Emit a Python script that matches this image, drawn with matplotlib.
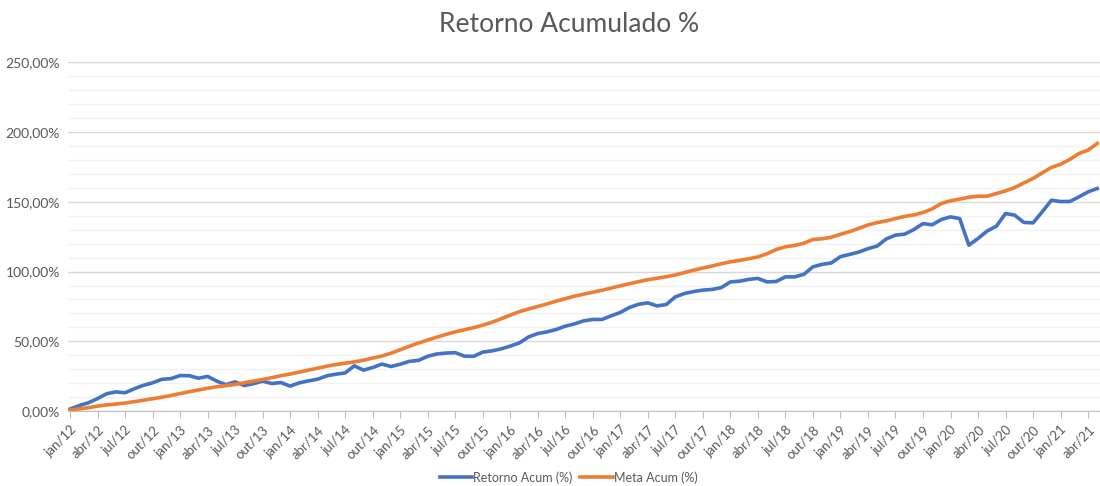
import numpy as np
import matplotlib
matplotlib.use("Agg")
import matplotlib.pyplot as plt
from matplotlib.ticker import MultipleLocator, FixedLocator, FuncFormatter

plt.rcParams['font.family'] = ['Lato', 'DejaVu Sans']

# meses (pt-BR) e anos do eixo x
meses = ['jan', 'fev', 'mar', 'abr', 'mai', 'jun', 'jul', 'ago', 'set', 'out', 'nov', 'dez']
anos = ['12', '13', '14', '15', '16', '17', '18', '19', '20', '21']

# retorno acumulado da carteira (%), jan/12 .. mai/21
retorno = [1.5, 4.0, 6.0, 9.0, 12.5, 13.8, 13.2, 16.0, 18.5, 20.3, 22.8, 23.3,
           25.5, 25.4, 23.6, 24.9, 21.5, 19.0, 21.0, 18.3, 19.7, 21.5, 19.8, 20.5,
           17.9, 20.3, 21.7, 22.9, 25.3, 26.5, 27.4, 32.5, 29.4, 31.3, 33.7, 32.0,
           33.6, 35.7, 36.4, 39.3, 41.0, 41.6, 41.9, 39.4, 39.3, 42.3, 43.2, 44.6,
           46.6, 48.9, 53.2, 55.6, 56.8, 58.5, 60.9, 62.5, 64.7, 65.7, 65.7, 68.3,
           70.7, 74.3, 76.6, 77.6, 75.4, 76.4, 81.9, 84.3, 85.7, 86.7, 87.2, 88.5,
           92.6, 93.1, 94.4, 95.1, 92.6, 92.9, 96.2, 96.2, 98.0, 103.4, 105.2, 106.2,
           110.7, 112.3, 114.0, 116.4, 118.3, 123.4, 126.1, 126.8, 130.1, 134.4, 133.5, 137.3,
           139.2, 138.0, 118.9, 123.7, 129.1, 132.5, 141.6, 140.4, 135.2, 134.9, 142.8, 151.1,
           150.2, 150.2, 153.5, 157.1, 159.5]

# meta acumulada (%)
meta = [0.8, 1.6, 2.5, 3.6, 4.5, 5.1, 5.8, 6.8, 7.8, 8.9, 10.0, 11.2,
        12.6, 13.9, 15.2, 16.4, 17.5, 18.3, 19.2, 20.4, 21.5, 22.7, 24.0, 25.4,
        26.6, 28.0, 29.4, 30.8, 32.2, 33.4, 34.4, 35.3, 36.5, 38.0, 39.5, 41.5,
        44.0, 46.5, 48.8, 51.0, 53.0, 55.0, 56.8, 58.3, 59.8, 61.6, 63.7, 66.2,
        68.8, 71.3, 73.2, 75.0, 76.8, 78.8, 80.6, 82.4, 83.8, 85.2, 86.6, 88.2,
        89.8, 91.3, 92.8, 94.2, 95.2, 96.3, 97.6, 99.3, 101.0, 102.6, 104.0, 105.6,
        107.0, 108.0, 109.2, 110.5, 112.8, 115.8, 117.8, 118.7, 120.3, 123.0, 123.5, 124.6,
        126.7, 128.6, 131.0, 133.4, 135.1, 136.3, 138.0, 139.5, 140.6, 142.3, 144.9, 148.8,
        150.7, 151.9, 153.3, 154.0, 154.0, 155.9, 157.8, 160.2, 163.5, 166.7, 170.7, 174.6,
        176.9, 180.3, 184.6, 187.0, 191.8]

labels = [m + '/' + a for a in anos for m in meses][:len(retorno)]
x = np.arange(len(retorno))

grey = '#595959'
fig = plt.figure(figsize=(11, 4.86), dpi=100)
ax = fig.add_axes([0.062, 0.154, 0.938, 0.718])

ax.plot(x, retorno, color='#4472C4', lw=2.6, label='Retorno Acum (%)', solid_joinstyle='round')
ax.plot(x, meta, color='#ED7D31', lw=2.6, label='Meta Acum (%)', solid_joinstyle='round')

ax.set_ylim(0, 250)
ax.set_xlim(-0.2, 112.3)
ax.yaxis.set_major_locator(MultipleLocator(50))
ax.yaxis.set_minor_locator(MultipleLocator(10))
ax.yaxis.set_major_formatter(FuncFormatter(lambda v, p: '{:.2f}%'.format(v).replace('.', ',')))
ax.grid(axis='y', which='major', color='#d9d9d9', lw=1.0)
ax.grid(axis='y', which='minor', color='#f2f2f2', lw=1.0)
ax.set_axisbelow(True)
ax.tick_params(axis='y', which='both', length=0, labelsize=10, labelcolor=grey, pad=6)

ticks = x[::3]
ax.xaxis.set_major_locator(FixedLocator(ticks))
ax.set_xticklabels([labels[i] for i in ticks], rotation=45, ha='right', rotation_mode='anchor')
ax.tick_params(axis='x', length=5, color='#bfbfbf', labelsize=9.5, labelcolor=grey, pad=4)

for s in ['top', 'right', 'left']:
    ax.spines[s].set_visible(False)
ax.spines['bottom'].set_color('#bfbfbf')

fig.suptitle('Retorno Acumulado %', x=0.517, y=0.975, fontsize=19, color=grey)
fig.legend(loc='center', bbox_to_anchor=(0.517, 0.018), ncol=2, frameon=False,
           fontsize=9, handlelength=2.6, handletextpad=0.1, columnspacing=0.6,
           labelcolor=grey)

fig.savefig('out.png', dpi=100)
